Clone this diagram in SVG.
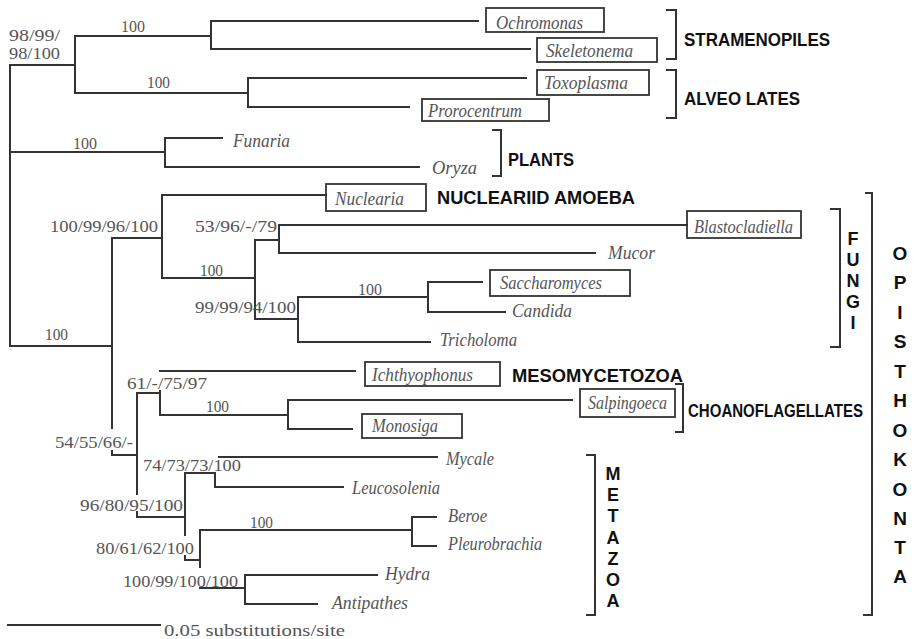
<svg xmlns="http://www.w3.org/2000/svg" width="914" height="639" viewBox="0 0 914 639">
<style>
.e{fill:none;stroke:#333;stroke-width:2;stroke-linecap:square}
.br{fill:none;stroke:#333;stroke-width:2}
.bx{fill:none;stroke:#333;stroke-width:1.8}
.n{font-family:"Liberation Serif",serif;font-size:16px;fill:#555}
.t{font-family:"Liberation Serif",serif;font-style:italic;font-size:18px;fill:#555}
.g{font-family:"Liberation Sans",Arial,sans-serif;font-weight:bold;font-size:19px;fill:#111}
.v{font-family:"Liberation Sans",Arial,sans-serif;font-weight:bold;font-size:18px;fill:#111;text-anchor:middle}
.vo{font-family:"Liberation Sans",Arial,sans-serif;font-weight:bold;font-size:19px;fill:#111;text-anchor:middle}
</style>
<rect width="914" height="639" fill="#fff"/>
<g id="connectors">
<path class="e" d="M10,65 H75 M75,36 V93 M75,36 H211 M211,21 V49 M211,21 H478 M211,49 H530 M75,93 H248 M248,78 V107 M248,78 H526 M248,107 H409"/>
<path class="e" d="M10,65 V346 M10,152 H165 M165,138 V167 M165,138 H222 M165,167 H419"/>
<path class="e" d="M10,346 H112 M112,238 V428 M112,451 V455 H137 M112,238 H162 M162,195 V278 M162,195 H326 M162,278 H255 M255,240 V319 M255,240 H279 M279,225 V253 M279,225 H687 M279,253 H595 M255,319 H298 M298,297 V342 M298,297 H428 M428,282 V312 M428,282 H482 M428,312 H505 M298,342 H430"/>
<path class="e" d="M137,393 V494 M137,512 V517 H185 M137,393 H160 M160,371 H355 M160,391 V415 M160,415 H288 M288,400 V429 M288,400 H572 M288,429 H352"/>
<path class="e" d="M185,473 V535 M185,556 V560 H200 M185,473 H215 V487 H343 M219,457 H437 M200,530 V567 M200,530 H412 M412,517 V546 M412,517 H436 M412,546 H436 M200,588 H245 M245,575 V604 M245,575 H377 M245,604 H317"/>
<path class="e" d="M8,625 H160"/>
</g>
<g id="brackets">
<path class="br" d="M666,10 H676 V59 H666"/>
<path class="br" d="M666,70 H676 V118 H666"/>
<path class="br" d="M492,130 H501 V176 H492"/>
<path class="br" d="M830,209 H840 V347 H830"/>
<path class="br" d="M865,193 H872 V615 H863"/>
<path class="br" d="M675,384 H683 V432 H675"/>
<path class="br" d="M586,455 H595 V615 H586"/>
</g>
<g id="support">
<text class="n" x="9" y="41" textLength="51" lengthAdjust="spacingAndGlyphs">98/99/</text>
<text class="n" x="9" y="59" textLength="51" lengthAdjust="spacingAndGlyphs">98/100</text>
<text class="n" x="121" y="32" textLength="24" lengthAdjust="spacingAndGlyphs">100</text>
<text class="n" x="147" y="88" textLength="23" lengthAdjust="spacingAndGlyphs">100</text>
<text class="n" x="73" y="149" textLength="24" lengthAdjust="spacingAndGlyphs">100</text>
<text class="n" x="50" y="232" textLength="108" lengthAdjust="spacingAndGlyphs">100/99/96/100</text>
<text class="n" x="195" y="232" textLength="82" lengthAdjust="spacingAndGlyphs">53/96/-/79</text>
<text class="n" x="200" y="276" textLength="23" lengthAdjust="spacingAndGlyphs">100</text>
<text class="n" x="358" y="295" textLength="24" lengthAdjust="spacingAndGlyphs">100</text>
<text class="n" x="195" y="313" textLength="101" lengthAdjust="spacingAndGlyphs">99/99/94/100</text>
<text class="n" x="45" y="340" textLength="23" lengthAdjust="spacingAndGlyphs">100</text>
<text class="n" x="127" y="389" textLength="80" lengthAdjust="spacingAndGlyphs">61/-/75/97</text>
<text class="n" x="206" y="412" textLength="23" lengthAdjust="spacingAndGlyphs">100</text>
<text class="n" x="55" y="448" textLength="78" lengthAdjust="spacingAndGlyphs">54/55/66/-</text>
<text class="n" x="143" y="471" textLength="98" lengthAdjust="spacingAndGlyphs">74/73/73/100</text>
<text class="n" x="80" y="511" textLength="103" lengthAdjust="spacingAndGlyphs">96/80/95/100</text>
<text class="n" x="250" y="528" textLength="23" lengthAdjust="spacingAndGlyphs">100</text>
<text class="n" x="96" y="554" textLength="98" lengthAdjust="spacingAndGlyphs">80/61/62/100</text>
<text class="n" x="123" y="587" textLength="115" lengthAdjust="spacingAndGlyphs">100/99/100/100</text>
<text class="n" x="164" y="636" textLength="181" lengthAdjust="spacingAndGlyphs" style="font-size:17px">0.05 substitutions/site</text>
</g>
<g id="Ochromonas"><rect class="bx" x="486" y="8" width="118" height="24"/><text class="t" x="496" y="29" textLength="87" lengthAdjust="spacingAndGlyphs">Ochromonas</text></g>
<g id="Skeletonema"><rect class="bx" x="537" y="38" width="120" height="24"/><text class="t" x="546" y="57" textLength="87" lengthAdjust="spacingAndGlyphs">Skeletonema</text></g>
<g id="Toxoplasma"><rect class="bx" x="537" y="70" width="112" height="25"/><text class="t" x="544" y="89" textLength="84" lengthAdjust="spacingAndGlyphs">Toxoplasma</text></g>
<g id="Prorocentrum"><rect class="bx" x="422" y="99" width="127" height="22"/><text class="t" x="428" y="117" textLength="94" lengthAdjust="spacingAndGlyphs">Prorocentrum</text></g>
<g id="Funaria"><text class="t" x="233" y="147" textLength="57" lengthAdjust="spacingAndGlyphs">Funaria</text></g>
<g id="Oryza"><text class="t" x="432" y="174" textLength="45" lengthAdjust="spacingAndGlyphs">Oryza</text></g>
<g id="Nuclearia"><rect class="bx" x="326" y="184" width="100" height="27"/><text class="t" x="335" y="205" textLength="69" lengthAdjust="spacingAndGlyphs">Nuclearia</text></g>
<g id="Blastocladiella"><rect class="bx" x="687" y="211" width="114" height="27"/><text class="t" x="694" y="233" textLength="99" lengthAdjust="spacingAndGlyphs">Blastocladiella</text></g>
<g id="Mucor"><text class="t" x="608" y="259" textLength="47" lengthAdjust="spacingAndGlyphs">Mucor</text></g>
<g id="Saccharomyces"><rect class="bx" x="490" y="270" width="140" height="26"/><text class="t" x="500" y="289" textLength="102" lengthAdjust="spacingAndGlyphs">Saccharomyces</text></g>
<g id="Candida"><text class="t" x="512" y="317" textLength="60" lengthAdjust="spacingAndGlyphs">Candida</text></g>
<g id="Tricholoma"><text class="t" x="440" y="346" textLength="77" lengthAdjust="spacingAndGlyphs">Tricholoma</text></g>
<g id="Ichthyophonus"><rect class="bx" x="365" y="362" width="135" height="24"/><text class="t" x="372" y="381" textLength="101" lengthAdjust="spacingAndGlyphs">Ichthyophonus</text></g>
<g id="Salpingoeca"><rect class="bx" x="580" y="389" width="95" height="28"/><text class="t" x="588" y="409" textLength="79" lengthAdjust="spacingAndGlyphs">Salpingoeca</text></g>
<g id="Monosiga"><rect class="bx" x="362" y="414" width="100" height="24"/><text class="t" x="372" y="432" textLength="66" lengthAdjust="spacingAndGlyphs">Monosiga</text></g>
<g id="Mycale"><text class="t" x="446" y="465" textLength="48" lengthAdjust="spacingAndGlyphs">Mycale</text></g>
<g id="Leucosolenia"><text class="t" x="352" y="494" textLength="88" lengthAdjust="spacingAndGlyphs">Leucosolenia</text></g>
<g id="Beroe"><text class="t" x="448" y="522" textLength="39" lengthAdjust="spacingAndGlyphs">Beroe</text></g>
<g id="Pleurobrachia"><text class="t" x="448" y="550" textLength="94" lengthAdjust="spacingAndGlyphs">Pleurobrachia</text></g>
<g id="Hydra"><text class="t" x="385" y="580" textLength="45" lengthAdjust="spacingAndGlyphs">Hydra</text></g>
<g id="Antipathes"><text class="t" x="332" y="609" textLength="76" lengthAdjust="spacingAndGlyphs">Antipathes</text></g>
<g id="groups">
<text class="g" x="684" y="46" textLength="146" lengthAdjust="spacingAndGlyphs">STRAMENOPILES</text>
<text class="g" x="684" y="105" textLength="116" lengthAdjust="spacingAndGlyphs">ALVEO LATES</text>
<text class="g" x="508" y="166" textLength="66" lengthAdjust="spacingAndGlyphs">PLANTS</text>
<text class="g" x="437" y="204" textLength="198" lengthAdjust="spacingAndGlyphs">NUCLEARIID AMOEBA</text>
<text class="g" x="512" y="382" textLength="171" lengthAdjust="spacingAndGlyphs">MESOMYCETOZOA</text>
<text class="g" x="688" y="417" textLength="175" lengthAdjust="spacingAndGlyphs">CHOANOFLAGELLATES</text>
</g>
<g id="FUNGI">
<text class="v" x="853" y="245">F</text><text class="v" x="853" y="266">U</text><text class="v" x="853" y="287">N</text><text class="v" x="853" y="308">G</text><text class="v" x="853" y="329">I</text>
</g>
<g id="METAZOA">
<text class="v" x="613" y="480">M</text><text class="v" x="613" y="501">E</text><text class="v" x="613" y="522">T</text><text class="v" x="613" y="544">A</text><text class="v" x="613" y="565">Z</text><text class="v" x="613" y="586">O</text><text class="v" x="613" y="607">A</text>
</g>
<g id="OPISTHOKONTA">
<text class="vo" x="900" y="260">O</text><text class="vo" x="900" y="289">P</text><text class="vo" x="900" y="319">I</text><text class="vo" x="900" y="348">S</text><text class="vo" x="900" y="378">T</text><text class="vo" x="900" y="407">H</text><text class="vo" x="900" y="437">O</text><text class="vo" x="900" y="466">K</text><text class="vo" x="900" y="496">O</text><text class="vo" x="900" y="525">N</text><text class="vo" x="900" y="554">T</text><text class="vo" x="900" y="583">A</text>
</g>
</svg>
